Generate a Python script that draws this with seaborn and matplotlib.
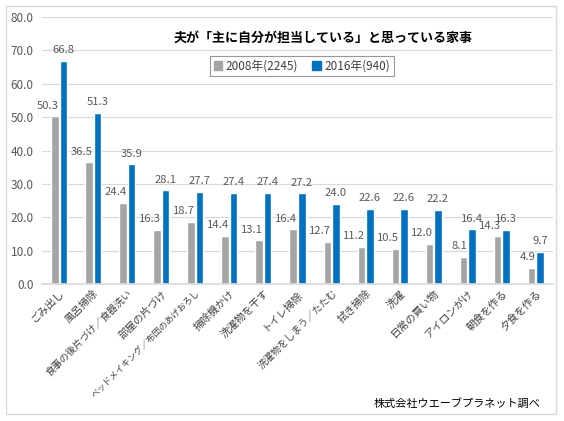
import matplotlib
matplotlib.use("Agg")
import matplotlib.pyplot as plt
import seaborn as sns
import pandas as pd
from matplotlib.patches import Rectangle

categories = ["ごみ出し", "風呂掃除", "食事の後片づけ／食器洗い", "部屋の片づけ",
              "ベッドメイキング／布団のあげおろし", "掃除機かけ", "洗濯物を干す", "トイレ掃除",
              "洗濯物をしまう／たたむ", "拭き掃除", "洗濯", "日常の買い物", "アイロンがけ",
              "朝食を作る", "夕食を作る"]
v2008 = [50.3, 36.5, 24.4, 16.3, 18.7, 14.4, 13.1, 16.4, 12.7, 11.2, 10.5, 12.0, 8.1, 14.3, 4.9]
v2016 = [66.8, 51.3, 35.9, 28.1, 27.7, 27.4, 27.4, 27.2, 24.0, 22.6, 22.6, 22.2, 16.4, 16.3, 9.7]
series = ["2008年(2245)", "2016年(940)"]
colors = ["#a5a5a5", "#0070c0"]
title = "夫が「主に自分が担当している」と思っている家事"
source = "株式会社ウエーブプラネット調べ"

df = pd.DataFrame({
    "cat": categories * 2,
    "val": v2008 + v2016,
    "series": [series[0]] * len(categories) + [series[1]] * len(categories),
})

sns.set_theme(style="white")
plt.rcParams['font.family'] = ['Noto Sans CJK JP', 'DejaVu Sans']

fig = plt.figure(figsize=(5.64, 4.21), dpi=100)
ax = fig.add_axes([42/564, 1-284/421, 511/564, 267/421])

sns.barplot(data=df, x="cat", y="val", hue="series", palette=colors,
            width=0.5, gap=0.12, ax=ax, legend=False, saturation=1)

# data labels: 2008 right-aligned to its bar, 2016 centred
for i, cont in enumerate(ax.containers):
    for p in cont.patches:
        h = p.get_height()
        if i == 0:
            x = p.get_x() + p.get_width()
            ha = "right"
        else:
            x = p.get_x() + p.get_width() / 2
            ha = "center"
        ax.annotate(f"{h:.1f}", xy=(x, h), xytext=(0, 4), textcoords="offset points",
                    ha=ha, va="bottom", fontsize=8.1, color="#595959")

ax.set_ylim(0, 80)
ax.set_yticks(range(0, 81, 10))
ax.set_yticklabels([f"{v:.1f}" for v in range(0, 81, 10)], fontsize=8.5, color="#595959")
ax.yaxis.grid(True, color="#d9d9d9", linewidth=0.8)
ax.set_axisbelow(True)
for s in ["top", "right", "left"]:
    ax.spines[s].set_visible(False)
ax.spines["bottom"].set_color("#d9d9d9")
ax.set_xlabel("")
ax.set_ylabel("")
ax.tick_params(axis="y", length=0, pad=6)
ax.tick_params(axis="x", length=0, pad=3)
ax.set_xticks(range(len(categories)))
labels = ax.set_xticklabels(categories, rotation=45, ha="right", rotation_mode="anchor",
                            fontsize=7.6, color="#404040")
for t in labels:
    if len(t.get_text()) > 14:
        t.set_fontsize(6.3)
    elif len(t.get_text()) > 10:
        t.set_fontsize(7.0)

fig.text(323/564, 1-38/421, title, ha="center", va="center", fontsize=9.4,
         fontweight="bold", color="#000000")

handles = [Rectangle((0, 0), 1, 1, color=c) for c in colors]
leg = fig.legend(handles, series, loc="center", bbox_to_anchor=(302/564, 1-66/421),
                 ncol=2, fontsize=8.5, frameon=True, fancybox=False, edgecolor="#7f7f7f",
                 handlelength=0.7, handleheight=0.7, handletextpad=0.3, columnspacing=1.2,
                 borderpad=0.3)
leg.get_frame().set_linewidth(0.8)
for t in leg.get_texts():
    t.set_color("#404040")

fig.text(540/564, 1-403/421, source, ha="right", va="center", fontsize=8, color="#000000")

fig.patches.append(Rectangle((6/564, 1-414/421), 550/564, 408/421, transform=fig.transFigure,
                             fill=False, edgecolor="#d9d9d9", linewidth=1))

fig.savefig("out.png", dpi=100)
